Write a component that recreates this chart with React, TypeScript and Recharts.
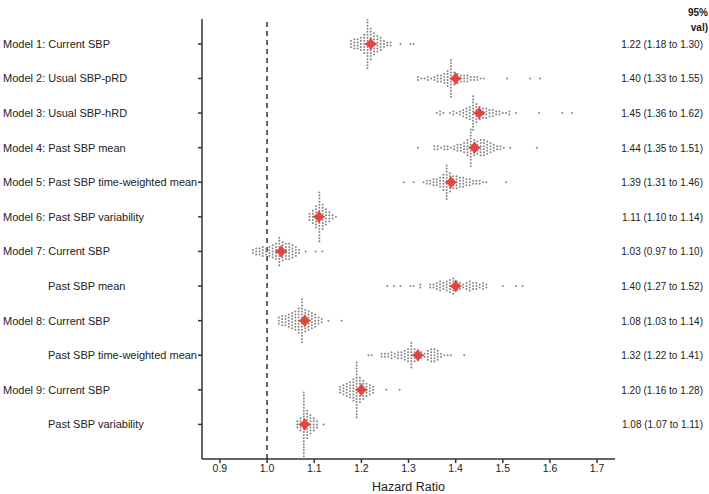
import React from "react";
import {
  ComposedChart,
  Scatter,
  XAxis,
  YAxis,
  ReferenceLine,
} from "recharts";

// Row labels (top to bottom)
const rowLabels = [
  "Model 1: Current SBP",
  "Model 2: Usual SBP-pRD",
  "Model 3: Usual SBP-hRD",
  "Model 4: Past SBP mean",
  "Model 5: Past SBP time-weighted mean",
  "Model 6: Past SBP variability",
  "Model 7: Current SBP",
  "Past SBP mean",
  "Model 8: Current SBP",
  "Past SBP time-weighted mean",
  "Model 9: Current SBP",
  "Past SBP variability",
];
const rowIndented = [false, false, false, false, false, false, false, true, false, true, false, true];

// Point estimates and CI text
const estimates = [1.22, 1.40, 1.45, 1.44, 1.39, 1.11, 1.03, 1.40, 1.08, 1.32, 1.20, 1.08];
const ciLabels = [
  "1.22 (1.18 to 1.30)",
  "1.40 (1.33 to 1.55)",
  "1.45 (1.36 to 1.62)",
  "1.44 (1.35 to 1.51)",
  "1.39 (1.31 to 1.46)",
  "1.11 (1.10 to 1.14)",
  "1.03 (0.97 to 1.10)",
  "1.40 (1.27 to 1.52)",
  "1.08 (1.03 to 1.14)",
  "1.32 (1.22 to 1.41)",
  "1.20 (1.16 to 1.28)",
  "1.08 (1.07 to 1.11)",
];

// Swarm: per row, HR of first column and dot counts per column (column width 0.007)
const swarmStart = [1.178, 1.32, 1.36, 1.32, 1.29, 1.09, 0.97, 1.255, 1.025, 1.215, 1.155, 1.064];
const swarmCounts = [
  [3, 4, 4, 5, 7, 17, 11, 8, 6, 5, 3, 2, 2, 0, 0, 1, 0, 0, 1, 1],
  [2, 1, 1, 2, 1, 2, 3, 3, 4, 6, 13, 5, 4, 3, 3, 3, 2, 2, 2, 1, 1, 0, 0, 0, 0, 0, 0, 1, 0, 0, 0, 0, 0, 0, 1, 0, 0, 1],
  [1, 2, 1, 0, 1, 2, 1, 2, 3, 4, 5, 12, 7, 5, 4, 4, 3, 3, 2, 2, 1, 1, 2, 0, 1, 0, 0, 0, 0, 0, 0, 1, 0, 0, 0, 0, 0, 0, 1, 0, 0, 1],
  [1, 0, 0, 0, 0, 2, 2, 1, 2, 2, 1, 2, 3, 3, 4, 6, 13, 6, 5, 6, 6, 5, 4, 3, 2, 2, 1, 0, 1, 0, 0, 0, 0, 0, 0, 0, 1],
  [1, 0, 0, 1, 0, 0, 1, 2, 2, 3, 3, 4, 6, 12, 7, 5, 5, 4, 4, 3, 3, 2, 2, 2, 1, 1, 0, 0, 0, 0, 0, 1],
  [3, 5, 8, 17, 9, 6, 4, 2, 1],
  [2, 3, 3, 4, 3, 4, 5, 6, 10, 7, 6, 6, 5, 4, 2, 0, 1, 0, 0, 1, 0, 1],
  [1, 0, 1, 0, 1, 0, 0, 1, 1, 0, 2, 0, 0, 2, 2, 3, 4, 3, 4, 5, 6, 4, 3, 2, 3, 4, 3, 3, 2, 3, 2, 0, 0, 0, 0, 1, 0, 0, 0, 1, 0, 1],
  [3, 4, 4, 5, 6, 7, 9, 15, 8, 7, 6, 5, 3, 2, 0, 1, 0, 0, 0, 1],
  [1, 1, 0, 0, 2, 2, 2, 3, 2, 3, 3, 4, 5, 9, 5, 4, 3, 2, 4, 5, 5, 4, 2, 1, 1, 1, 0, 0, 0, 1],
  [3, 4, 5, 6, 8, 19, 9, 7, 5, 4, 3, 0, 0, 0, 1, 0, 0, 0, 1],
  [3, 5, 22, 10, 7, 5, 3, 0, 1],
];

const xTicks = [0.9, 1.0, 1.1, 1.2, 1.3, 1.4, 1.5, 1.6, 1.7];
const rowTicks = [1, 2, 3, 4, 5, 6, 7, 8, 9, 10, 11, 12];

const COL_STEP = 0.007;
const DOT_DY = 0.088;

const swarmPoints: { x: number; y: number }[] = [];
swarmCounts.forEach((counts, i) => {
  counts.forEach((n, j) => {
    const x = swarmStart[i] + j * COL_STEP;
    for (let k = 0; k < n; k++) {
      swarmPoints.push({ x, y: i + 1 + (k - (n - 1) / 2) * DOT_DY });
    }
  });
});

const estimatePoints = estimates.map((v, i) => ({ x: v, y: i + 1 }));

const FONT = "'Liberation Sans', Arial, sans-serif";

const LeftTick = (props: any) => {
  const { y, payload } = props;
  const idx = payload.value - 1;
  const label = rowLabels[idx];
  if (!label) return null;
  return (
    <text
      x={rowIndented[idx] ? 48 : 3}
      y={y}
      dy={4}
      fontSize={11}
      fontFamily={FONT}
      fill="#222"
      textAnchor="start"
    >
      {label}
    </text>
  );
};

const RightTick = (props: any) => {
  const { y, payload } = props;
  const idx = payload.value - 1;
  const label = ciLabels[idx];
  if (!label) return null;
  return (
    <text x={703} y={y} dy={4} fontSize={10} fontFamily={FONT} fill="#222" textAnchor="end">
      {label}
    </text>
  );
};

const GrayDot = (props: any) => (
  <circle cx={props.cx} cy={props.cy} r={1.0} fill="#868686" />
);

const RedStar = (props: any) => {
  const { cx, cy } = props;
  const o = 6.5;
  const i = 2.6;
  const pts = [
    [0, -o], [i, -i], [o, 0], [i, i], [0, o], [-i, i], [-o, 0], [-i, -i],
  ]
    .map(([dx, dy]) => `${cx + dx},${cy + dy}`)
    .join(" ");
  return <polygon points={pts} fill="#e2473f" />;
};

export default function App() {
  return (
    <div style={{ position: "relative", width: 709, height: 494, background: "#fff" }}>
      <style>{"body{margin:0;}"}</style>
      <ComposedChart
        width={709}
        height={494}
        margin={{ top: 19, right: 0, bottom: 0, left: 0 }}
      >
        <XAxis
          type="number"
          dataKey="x"
          domain={[0.862, 1.738]}
          ticks={xTicks}
          tickFormatter={(v: number) => v.toFixed(1)}
          allowDataOverflow
          height={35}
          tickSize={4}
          tickMargin={2}
          stroke="#333"
          strokeWidth={1.5}
          tick={{ fontSize: 10.5, fontFamily: FONT, fill: "#222" }}
          label={{
            value: "Hazard Ratio",
            position: "insideBottom",
            offset: 3,
            fontSize: 12.5,
            fontFamily: FONT,
            fill: "#222",
          }}
        />
        <YAxis
          yAxisId="left"
          type="number"
          dataKey="y"
          domain={[0.28, 13]}
          reversed
          allowDataOverflow
          ticks={rowTicks}
          interval={0}
          width={202}
          tickSize={4}
          stroke="#333"
          strokeWidth={1.5}
          tick={<LeftTick />}
        />
        <YAxis
          yAxisId="right"
          orientation="right"
          type="number"
          domain={[0.28, 13]}
          reversed
          allowDataOverflow
          ticks={rowTicks}
          interval={0}
          width={94}
          axisLine={false}
          tickLine={false}
          tick={<RightTick />}
        />
        <ReferenceLine
          yAxisId="left"
          x={1}
          stroke="#333"
          strokeWidth={1.5}
          strokeDasharray="5 4"
        />
        <Scatter
          yAxisId="left"
          data={swarmPoints}
          shape={<GrayDot />}
          isAnimationActive={false}
        />
        <Scatter
          yAxisId="left"
          data={estimatePoints}
          shape={<RedStar />}
          isAnimationActive={false}
        />
      </ComposedChart>
      <div
        style={{
          position: "absolute",
          right: 1,
          top: 5,
          fontFamily: FONT,
          fontSize: 10,
          fontWeight: "bold",
          color: "#222",
          textAlign: "right",
          lineHeight: "15px",
        }}
      >
        <div>95%</div>
        <div>val)</div>
      </div>
    </div>
  );
}
